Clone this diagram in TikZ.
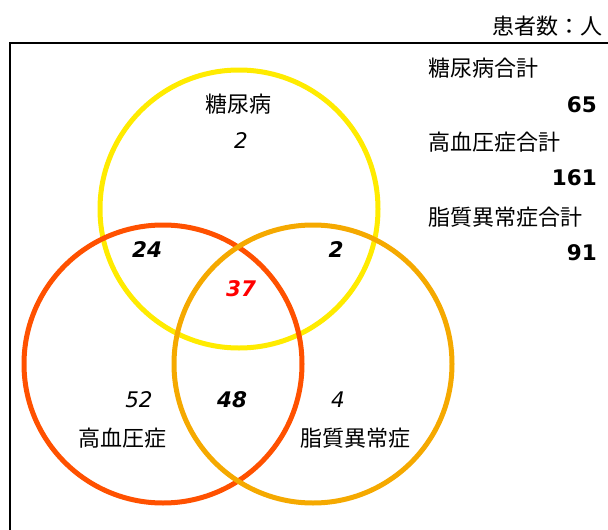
\documentclass[tikz,border=0pt]{standalone}
\usepackage{fontspec}
\setmainfont{DejaVu Sans}
\newfontfamily\jpfont{Noto Sans CJK JP}
\definecolor{cyellow}{HTML}{FFEB00}
\definecolor{cred}{HTML}{FF5100}
\definecolor{corange}{HTML}{F5A900}
\definecolor{cnum}{HTML}{FF0000}
\tikzset{
  ring/.style={line width=5pt},
  jp/.style={font=\jpfont\fontsize{22}{26}\selectfont, inner sep=0pt},
  num/.style={font=\fontsize{21.5}{24}\selectfont\itshape, inner sep=0pt},
  bnum/.style={font=\fontsize{21.5}{24}\selectfont\bfseries\itshape, inner sep=0pt},
  tot/.style={font=\fontsize{21.5}{24}\selectfont\bfseries, inner sep=0pt, anchor=east},
}
\begin{document}
\begin{tikzpicture}[x=1pt,y=-1pt]
\useasboundingbox (0,0) rectangle (608,530);
\draw[line width=2.5pt] (10,531) -- (10,43) -- (609,43);
% circles
\draw[ring, cyellow] (239,209) circle[radius=139];
\draw[ring, cred] (163,364) circle[radius=139];
\draw[ring, corange] (313,364) circle[radius=139];
% header
\node[jp, anchor=east] (unit) at (603,26) {患者数：人};
% totals
\node[jp, anchor=west] (t1) at (428,68) {糖尿病合計};
\node[tot] (n1) at (597,105) {65};
\node[jp, anchor=west] (t2) at (428,142) {高血圧症合計};
\node[tot] (n2) at (597,178) {161};
\node[jp, anchor=west] (t3) at (428,217) {脂質異常症合計};
\node[tot] (n3) at (597,253) {91};
% venn labels
\node[jp] (ldm) at (238,104) {糖尿病};
\node[num] (v1) at (241,141) {2};
\node[bnum] (v2) at (147,250) {24};
\node[bnum] (v3) at (336,250) {2};
\node[bnum, text=cnum] (v4) at (241,289) {37};
\node[num] (v5) at (139,400) {52};
\node[bnum] (v6) at (232,400) {48};
\node[num] (v7) at (338,400) {4};
\node[jp] (lhp) at (122,438) {高血圧症};
\node[jp] (ldl) at (355,438) {脂質異常症};
\end{tikzpicture}
\end{document}
